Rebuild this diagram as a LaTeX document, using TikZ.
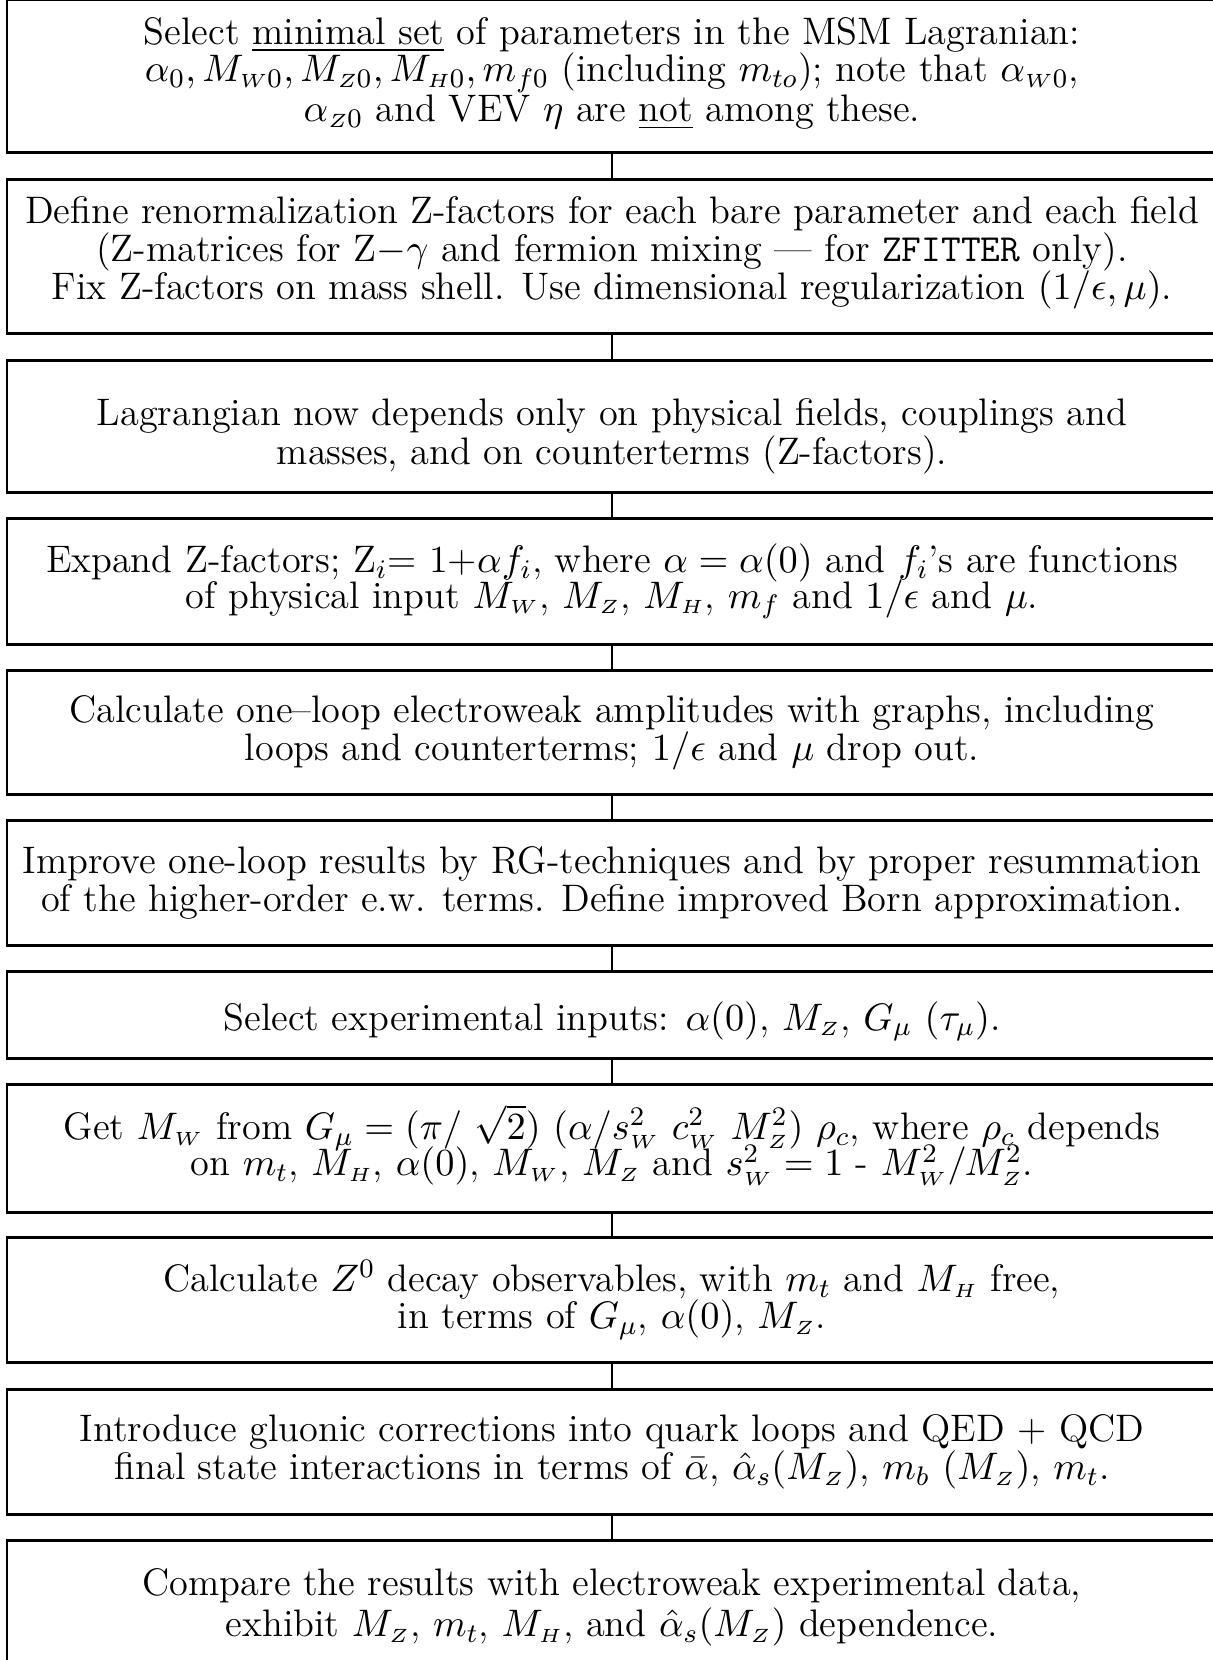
\RequirePackage{fix-cm}
\documentclass[tikz,border=0pt]{standalone}
\usepackage{amsmath}
\newcommand\Mw{M_{\scriptscriptstyle W}}
\newcommand\Mz{M_{\scriptscriptstyle Z}}
\newcommand\Mh{M_{\scriptscriptstyle H}}
\newcommand\sss[1]{{\scriptscriptstyle #1}}
\newcommand\boxfont{\fontsize{11.5}{11.3}\selectfont}
\tikzset{
  box/.style={draw=black, line width=0.6pt, rectangle, inner sep=0pt,
    minimum width=363pt, align=center, font=\boxfont},
  hedge/.style={draw=black, line width=0.85pt},
  conn/.style={draw=black, line width=0.5pt}
}
\begin{document}
\lineskiplimit=-20pt
\begin{tikzpicture}[x=0.3pt,y=-0.3pt]
\useasboundingbox (0,0) rectangle (1213,1660);
\clip (0,0) rectangle (1213,1660);
\node[box, minimum height=45.6pt] (b1) at (612,76) {Select \underline{minimal set} of parameters in the MSM Lagranian:\\
$\alpha_0, M_{\sss{W}0}, M_{\sss{Z}0}, M_{\sss{H}0}, m_{f0}$ (including $m_{to}$); note that $\alpha_{\sss{W}0}$,\\[0.6pt]
$\alpha_{\sss{Z}0}$ and VEV $\eta$ are \underline{not} among these.\rule[-4pt]{0pt}{1pt}};
\node[box, minimum height=45.9pt] (b2) at (612,256.5) {Define renormalization Z-factors for each bare parameter and each field\\
(Z-matrices for Z$-\gamma$ and fermion mixing --- for \texttt{ZFITTER} only).\\
Fix Z-factors on mass shell. Use dimensional regularization $(1/\epsilon,\mu)$.\rule[-5pt]{0pt}{1pt}};
\node[box, minimum height=39.3pt] (b3) at (612,426.5) {\rule{0pt}{14pt}Lagrangian now depends only on physical fields, couplings and\\[0.6pt]
masses, and on counterterms (Z-factors).};
\node[box, minimum height=37.5pt] (b4) at (612,581.5) {Expand Z-factors; Z$_i$= 1+$\alpha f_i$, where $\alpha = \alpha(0)$ and $f_i$'s are functions\\[-0.6pt]
of physical input $\Mw$, $\Mz$, $\Mh$, $m_f$ and $1/\epsilon$ and $\mu$.};
\node[box, minimum height=36.9pt] (b5) at (612,732.5) {Calculate one--loop electroweak amplitudes with graphs, including\\
loops and counterterms; $1/\epsilon$ and $\mu$ drop out.};
\node[box, minimum height=37.2pt] (b6) at (612,883) {Improve one-loop results by RG-techniques and by proper resummation\\[0.3pt]
of the higher-order e.w. terms. Define improved Born approximation.};
\node[box, minimum height=25.8pt] (b7) at (612,1015) {\raisebox{-4.5pt}[0pt][0pt]{Select experimental inputs: $\alpha(0)$, $\Mz$, $G_\mu$ $(\tau_\mu)$.}};
\node[box, minimum height=38.1pt] (b8) at (612,1148.5) {Get $\Mw$ from $G_\mu = (\pi/\ \sqrt{2})\ (\alpha/s^2_{\sss{W}}\ c^2_{\sss{W}}\ M^2_{\sss{Z}})\ \rho_c$, where $\rho_c$ depends\\[-0.3pt]
on $m_t$, $\Mh$, $\alpha(0)$, $\Mw$, $\Mz$ and $s^2_{\sss{W}} = 1$ - $M^2_{\sss{W}}/M^2_{\sss{Z}}$.\rule[-5pt]{0pt}{1pt}};
\node[box, minimum height=37.2pt] (b9) at (612,1300) {Calculate $Z^0$ decay observables, with $m_t$ and $\Mh$ free,\\
in terms of $G_\mu$, $\alpha(0)$, $\Mz$.};
\node[box, minimum height=37.2pt] (b10) at (612,1452) {Introduce gluonic corrections into quark loops and QED + QCD\\
final state interactions in terms of $\bar\alpha$, $\hat\alpha_s(\Mz)$, $m_b$ $(\Mz)$, $m_t$.};
\node[box, minimum height=37.2pt] (b11) at (612,1603) {\rule{0pt}{10.6pt}Compare the results with electroweak experimental data,\\[1.2pt]
exhibit $\Mz$, $m_t$, $\Mh$, and $\hat\alpha_s(\Mz)$ dependence.};
\foreach \n in {b1,b2,b3,b4,b5,b6,b7,b8,b9,b10,b11} {
  \draw[hedge] (\n.north west) -- (\n.north east);
  \draw[hedge] (\n.south west) -- (\n.south east);
}
\foreach \a/\b in {b1/b2,b2/b3,b3/b4,b4/b5,b5/b6,b6/b7,b7/b8,b8/b9,b9/b10,b10/b11}
  \draw[conn] (\a.south) -- (\b.north);
\end{tikzpicture}
\end{document}
